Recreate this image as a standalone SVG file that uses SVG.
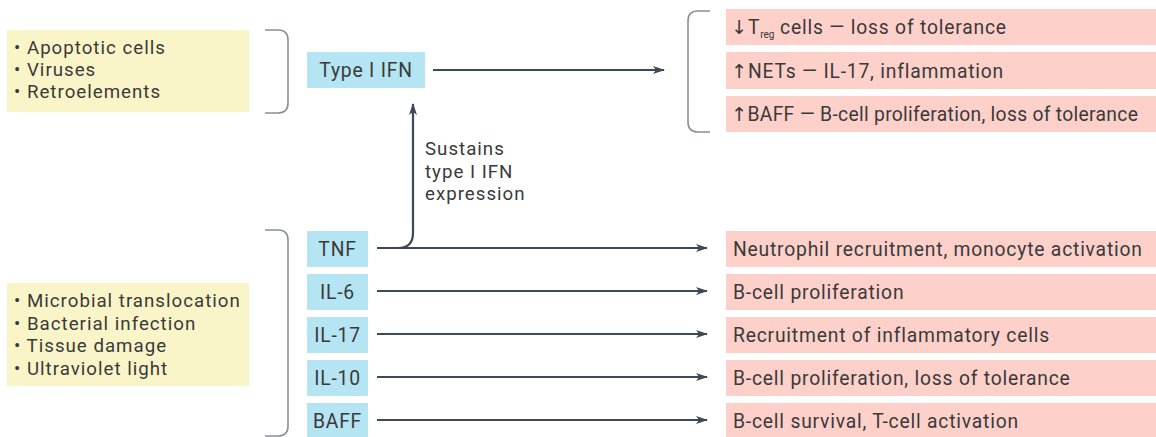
<svg xmlns="http://www.w3.org/2000/svg" width="1156" height="437" viewBox="0 0 1156 437">
<defs>
<style>
text{font-family:Roboto,"Open Sans","DejaVu Sans",sans-serif;font-size:19.3px;letter-spacing:0.8px;fill:#3a3a3a}
text.ml{font-size:18.7px;letter-spacing:1px}
text.tight{letter-spacing:0.3px}
.y{fill:#faf5c8}
.b{fill:#b5e4f2}
.p{fill:#fdd0ca}
.br{fill:none;stroke:#8a8f94;stroke-width:1.6}
.c{fill:none;stroke:#3d4a56;stroke-width:2.2}
.ctr{text-anchor:middle}
</style>
<marker id="ah" viewBox="0 0 12 8" refX="11" refY="4" markerWidth="12" markerHeight="8" markerUnits="userSpaceOnUse" orient="auto">
<path d="M0,0 L12,4 L0,8 L3,4 Z" fill="#3d4a56"/>
</marker>
</defs>
<rect width="1156" height="437" fill="#ffffff"/>

<g id="triggers1">
<rect class="y" x="7" y="30" width="242" height="82"/>
<text class="ml" x="14" y="54">• Apoptotic cells<tspan x="14" dy="22">• Viruses</tspan><tspan x="14" dy="22">• Retroelements</tspan></text>
</g>
<path class="br" d="M265,30 H278 Q288,30 288,40 V103 Q288,113 278,113 H265"/>

<g id="typeIIFN">
<rect class="b" x="307" y="52" width="118" height="36"/>
<text class="ctr" x="366" y="77">Type I IFN</text>
</g>

<path class="br" d="M710,11 H698 Q688,11 688,21 V122 Q688,132 698,132 H710"/>

<g id="treg">
<rect class="p" x="726" y="9" width="430" height="36"/>
<text x="731" y="34">↓T<tspan font-size="10" style="letter-spacing:0" dy="4">reg</tspan><tspan dy="-4"> cells — loss of tolerance</tspan></text>
</g>
<g id="nets">
<rect class="p" x="726" y="52" width="430" height="37"/>
<text x="731" y="78">↑NETs — IL-17, inflammation</text>
</g>
<g id="baff-top">
<rect class="p" x="726" y="96" width="430" height="36"/>
<text class="tight" x="731" y="121">↑BAFF — B-cell proliferation, loss of tolerance</text>
</g>

<g id="triggers2">
<rect class="y" x="7" y="283" width="242" height="103"/>
<text class="ml" x="14" y="307">• Microbial translocation<tspan x="14" dy="22.5">• Bacterial infection</tspan><tspan x="14" dy="22.5">• Tissue damage</tspan><tspan x="14" dy="22.5">• Ultraviolet light</tspan></text>
</g>
<path class="br" d="M265,230 H278 Q288,230 288,240 V426 Q288,436 278,436 H265"/>

<g id="tnf"><rect class="b" x="307" y="231" width="61" height="36"/><text class="ctr" x="337.5" y="256">TNF</text></g>
<g id="il6"><rect class="b" x="307" y="274" width="61" height="36"/><text class="ctr" x="337.5" y="299">IL-6</text></g>
<g id="il17"><rect class="b" x="307" y="317" width="61" height="36"/><text class="ctr" x="337.5" y="342">IL-17</text></g>
<g id="il10"><rect class="b" x="307" y="360" width="61" height="36"/><text class="ctr" x="337.5" y="385">IL-10</text></g>
<g id="baff"><rect class="b" x="307" y="403" width="61" height="36"/><text class="ctr" x="337.5" y="428">BAFF</text></g>

<g id="out1"><rect class="p" x="726" y="231" width="430" height="36"/><text x="733" y="256">Neutrophil recruitment, monocyte activation</text></g>
<g id="out2"><rect class="p" x="726" y="274" width="430" height="36"/><text x="733" y="299">B-cell proliferation</text></g>
<g id="out3"><rect class="p" x="726" y="317" width="430" height="36"/><text x="733" y="342">Recruitment of inflammatory cells</text></g>
<g id="out4"><rect class="p" x="726" y="360" width="430" height="36"/><text x="733" y="385">B-cell proliferation, loss of tolerance</text></g>
<g id="out5"><rect class="p" x="726" y="403" width="430" height="36"/><text x="733" y="428">B-cell survival, T-cell activation</text></g>

<g id="connectors">
<path class="c" d="M433,70 H664" marker-end="url(#ah)"/>
<path class="c" d="M377,248 H707" marker-end="url(#ah)"/>
<path class="c" d="M398,248 Q413,248 413,233 V104" marker-end="url(#ah)"/>
<path class="c" d="M377,291 H707" marker-end="url(#ah)"/>
<path class="c" d="M377,334 H707" marker-end="url(#ah)"/>
<path class="c" d="M377,377 H707" marker-end="url(#ah)"/>
<path class="c" d="M377,420 H707" marker-end="url(#ah)"/>
</g>
<g id="label-sustains">
<text class="ml" x="425" y="155">Sustains<tspan x="425" dy="22.5">type I IFN</tspan><tspan x="425" dy="22.5">expression</tspan></text>
</g>
</svg>
